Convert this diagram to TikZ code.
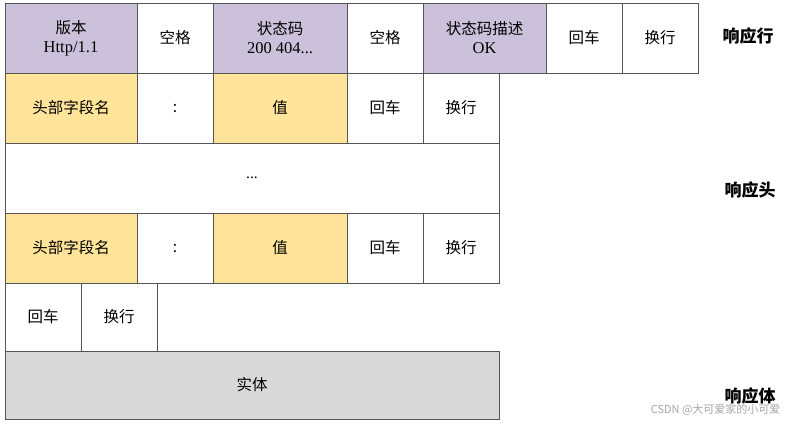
\documentclass[tikz,border=0pt]{standalone}
\usepackage{fontspec}
\setmainfont{Liberation Serif}
\newfontfamily\cjk{Noto Sans CJK SC}
\definecolor{pur}{HTML}{CBC1DA}
\definecolor{yel}{HTML}{FFE499}
\definecolor{gry}{HTML}{D9D9D9}
\definecolor{edge}{HTML}{555555}
\begin{document}
\begin{tikzpicture}[x=1pt,y=-1pt,
  cell/.style={draw=edge,line width=0.8pt,align=center,font=\cjk\fontsize{15.5}{19}\selectfont},
  lab/.style={font=\cjk\bfseries\fontsize{17}{20}\selectfont}]
\useasboundingbox[fill=white] (0,0) rectangle (786,424);
% row 1
\draw[cell,fill=pur] (5,3) rectangle (137,73) node[midway] (v) {版本\\{\rmfamily\fontsize{16.5}{19}\selectfont Http/1.1}};
\draw[cell,fill=white] (137,3) rectangle (213,73) node[midway] (s1) {空格};
\draw[cell,fill=pur] (213,3) rectangle (347,73) node[midway] (c) {状态码\\{\rmfamily\fontsize{16.5}{19}\selectfont 200 404...}};
\draw[cell,fill=white] (347,3) rectangle (423,73) node[midway] (s2) {空格};
\draw[cell,fill=pur] (423,3) rectangle (546,73) node[midway] (d) {状态码描述\\{\rmfamily\fontsize{16.5}{19}\selectfont OK}};
\draw[cell,fill=white] (546,3) rectangle (622,73) node[midway] (cr1) {回车};
\draw[cell,fill=white] (622,3) rectangle (698,73) node[midway] (lf1) {换行};
% row 2
\draw[cell,fill=yel] (5,73) rectangle (137,143) node[midway] (h1) {头部字段名};
\draw[cell,fill=white] (137,73) rectangle (213,143) node[midway] (k1) {:};
\draw[cell,fill=yel] (213,73) rectangle (347,143) node[midway] (val1) {值};
\draw[cell,fill=white] (347,73) rectangle (423,143) node[midway] (cr2) {回车};
\draw[cell,fill=white] (423,73) rectangle (499,143) node[midway] (lf2) {换行};
% row 3
\draw[cell,fill=white] (5,143) rectangle (499,213) node[midway] (dots) {\rmfamily ...};
% row 4
\draw[cell,fill=yel] (5,213) rectangle (137,283) node[midway] (h2) {头部字段名};
\draw[cell,fill=white] (137,213) rectangle (213,283) node[midway] (k2) {:};
\draw[cell,fill=yel] (213,213) rectangle (347,283) node[midway] (val2) {值};
\draw[cell,fill=white] (347,213) rectangle (423,283) node[midway] (cr3) {回车};
\draw[cell,fill=white] (423,213) rectangle (499,283) node[midway] (lf3) {换行};
% row 5
\draw[cell,fill=white] (5,283) rectangle (81,351) node[midway] (cr4) {回车};
\draw[cell,fill=white] (81,283) rectangle (157,351) node[midway] (lf4) {换行};
% row 6
\draw[cell,fill=gry] (5,351) rectangle (499,419) node[midway] (body) {实体};
% labels
\node[lab] (l1) at (748,36) {响应行};
\node[lab] (l2) at (750,190) {响应头};
\node[lab] (l3) at (750,396) {响应体};
\node[font=\cjk\fontsize{11}{13}\selectfont,text=gray!70,anchor=east] (wm) at (784,410) {CSDN @大可爱家的小可爱};
\end{tikzpicture}
\end{document}
